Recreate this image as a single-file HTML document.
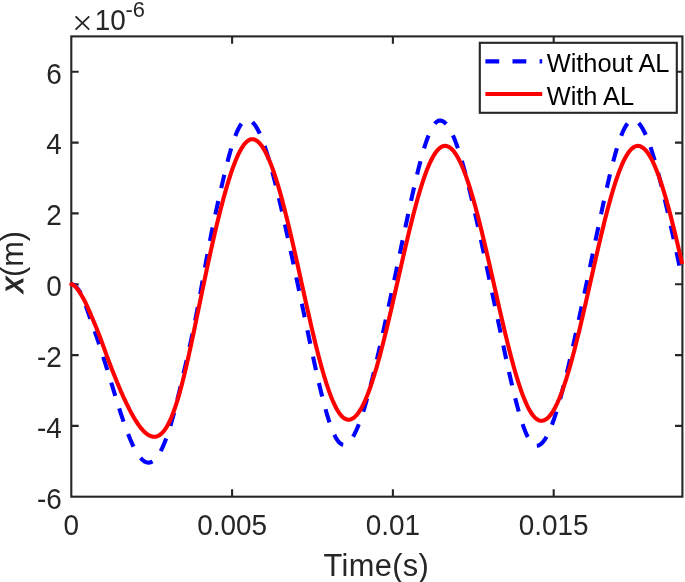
<!DOCTYPE html>
<html><head><meta charset="utf-8"><title>plot</title>
<style>
html,body{margin:0;padding:0;background:#fff;}
svg{display:block;}
text{font-family:"Liberation Sans",Arial,Helvetica,sans-serif;}
text.ser{font-family:"Liberation Serif",serif;}
</style></head><body>
<svg width="685" height="582" viewBox="0 0 685 582">
<rect x="0" y="0" width="685" height="582" fill="#fff"/>
<defs><clipPath id="ax"><rect x="67.3" y="36.4" width="619.1" height="460.3"/></clipPath></defs>
<rect x="71.3" y="36.4" width="611.1" height="460.3" fill="none" stroke="#262626" stroke-width="2.1"/>
<g stroke="#262626" stroke-width="2.1" fill="none"><path d="M232.1,496.7 v-7.4 M232.1,36.4 v7.4"/><path d="M392.9,496.7 v-7.4 M392.9,36.4 v7.4"/><path d="M553.7,496.7 v-7.4 M553.7,36.4 v7.4"/><path d="M71.3,71.8 h7.4 M682.4,71.8 h-7.4"/><path d="M71.3,142.6 h7.4 M682.4,142.6 h-7.4"/><path d="M71.3,213.4 h7.4 M682.4,213.4 h-7.4"/><path d="M71.3,284.3 h7.4 M682.4,284.3 h-7.4"/><path d="M71.3,355.1 h7.4 M682.4,355.1 h-7.4"/><path d="M71.3,425.9 h7.4 M682.4,425.9 h-7.4"/></g>
<g font-size="27.9" fill="#262626"><text transform="translate(71.3,535.4) scale(1,1.04)" text-anchor="middle">0</text><text transform="translate(232.1,535.4) scale(1,1.04)" text-anchor="middle">0.005</text><text transform="translate(392.9,535.4) scale(1,1.04)" text-anchor="middle">0.01</text><text transform="translate(553.7,535.4) scale(1,1.04)" text-anchor="middle">0.015</text><text transform="translate(61.8,83.6) scale(1,1.04)" text-anchor="end">6</text><text transform="translate(61.8,154.4) scale(1,1.04)" text-anchor="end">4</text><text transform="translate(61.8,225.2) scale(1,1.04)" text-anchor="end">2</text><text transform="translate(61.8,296.1) scale(1,1.04)" text-anchor="end">0</text><text transform="translate(61.8,366.9) scale(1,1.04)" text-anchor="end">-2</text><text transform="translate(61.8,437.7) scale(1,1.04)" text-anchor="end">-4</text><text transform="translate(61.8,508.5) scale(1,1.04)" text-anchor="end">-6</text></g>
<text x="72.1" y="35.1" font-size="36.8" class="ser" fill="#262626">×</text><text transform="translate(94.8,30) scale(1,1.04)" font-size="27.9" fill="#262626">10</text><text transform="translate(125.4,16.6) scale(1,1.04)" font-size="21.9" fill="#262626">-6</text>
<text x="376.4" y="575.6" font-size="30.8" letter-spacing="0.35" fill="#262626" text-anchor="middle">Time(s)</text>
<text transform="translate(22.9,261.7) rotate(-90)" font-size="30.8" fill="#262626" text-anchor="middle"><tspan font-style="italic" stroke="#262626" stroke-width="0.9">x</tspan>(m)</text>
<g clip-path="url(#ax)" fill="none" stroke-linejoin="round">
<path d="M71.3,284.2 L72.3,284.4 L73.3,284.7 L74.3,285.2 L75.3,285.9 L76.3,286.9 L77.3,288.2 L78.3,289.5 L79.3,290.9 L80.3,292.5 L81.3,294.3 L82.3,296.3 L83.3,298.8 L84.3,301.5 L85.3,304.2 L86.3,307.1 L87.3,310.0 L88.3,312.9 L89.3,315.8 L90.3,318.7 L91.3,321.6 L92.3,324.5 L93.3,327.3 L94.3,330.1 L95.3,333.0 L96.3,335.8 L97.3,338.8 L98.3,341.7 L99.3,344.7 L100.3,347.8 L101.3,350.9 L102.3,354.0 L103.3,357.1 L104.3,360.3 L105.3,363.5 L106.3,366.7 L107.3,370.0 L108.3,373.3 L109.3,376.5 L110.3,379.7 L111.3,383.0 L112.3,386.2 L113.3,389.4 L114.3,392.7 L115.3,395.9 L116.3,399.1 L117.3,402.3 L118.3,405.5 L119.3,408.6 L120.3,411.8 L121.3,414.8 L122.3,417.8 L123.3,420.8 L124.3,423.7 L125.3,426.5 L126.3,429.3 L127.3,432.0 L128.3,434.6 L129.3,437.1 L130.3,439.5 L131.3,441.8 L132.3,444.1 L133.3,446.2 L134.3,448.2 L135.3,450.0 L136.3,451.8 L137.3,453.5 L138.3,455.0 L139.3,456.4 L140.3,457.6 L141.3,458.7 L142.3,459.7 L143.3,460.6 L144.3,461.3 L145.3,461.8 L146.3,462.2 L147.3,462.5 L148.3,462.6 L149.3,462.6 L150.3,462.4 L151.3,462.0 L152.3,461.5 L153.3,460.9 L154.3,460.0 L155.3,459.1 L156.3,457.9 L157.3,456.7 L158.3,455.2 L159.3,453.6 L160.3,451.9 L161.3,450.0 L162.3,447.9 L163.3,445.7 L164.3,443.3 L165.3,440.8 L166.3,438.2 L167.3,435.3 L168.3,432.4 L169.3,429.3 L170.3,426.1 L171.3,422.7 L172.3,419.2 L173.3,415.6 L174.3,411.8 L175.3,407.9 L176.3,404.0 L177.3,399.9 L178.3,395.8 L179.3,391.6 L180.3,387.4 L181.3,383.1 L182.3,378.8 L183.3,374.5 L184.3,370.2 L185.3,365.9 L186.3,361.6 L187.3,357.2 L188.3,352.8 L189.3,348.4 L190.3,343.9 L191.3,339.3 L192.3,334.6 L193.3,329.8 L194.3,324.9 L195.3,319.9 L196.3,314.8 L197.3,309.6 L198.3,304.3 L199.3,298.9 L200.3,293.4 L201.3,287.9 L202.3,282.3 L203.3,276.8 L204.3,271.2 L205.3,265.7 L206.3,260.2 L207.3,254.8 L208.3,249.5 L209.3,244.2 L210.3,239.1 L211.3,234.0 L212.3,229.0 L213.3,224.2 L214.3,219.4 L215.3,214.7 L216.3,210.1 L217.3,205.5 L218.3,201.0 L219.3,196.6 L220.3,192.2 L221.3,187.8 L222.3,183.4 L223.3,179.1 L224.3,174.9 L225.3,170.7 L226.3,166.6 L227.3,162.7 L228.3,158.8 L229.3,155.1 L230.3,151.5 L231.3,148.0 L232.3,144.8 L233.3,141.7 L234.3,138.7 L235.3,136.0 L236.3,133.5 L237.3,131.1 L238.3,129.0 L239.3,127.1 L240.3,125.4 L241.3,123.9 L242.3,122.6 L243.3,121.5 L244.3,120.7 L245.3,120.1 L246.3,119.8 L247.3,119.6 L248.3,119.7 L249.3,120.0 L250.3,120.4 L251.3,121.1 L252.3,121.9 L253.3,123.0 L254.3,124.2 L255.3,125.5 L256.3,127.1 L257.3,128.8 L258.3,130.7 L259.3,132.7 L260.3,134.9 L261.3,137.3 L262.3,139.8 L263.3,142.4 L264.3,145.2 L265.3,148.1 L266.3,151.1 L267.3,154.3 L268.3,157.6 L269.3,161.0 L270.3,164.4 L271.3,168.0 L272.3,171.7 L273.3,175.5 L274.3,179.4 L275.3,183.3 L276.3,187.4 L277.3,191.5 L278.3,195.6 L279.3,199.8 L280.3,204.1 L281.3,208.4 L282.3,212.8 L283.3,217.2 L284.3,221.7 L285.3,226.2 L286.3,230.7 L287.3,235.3 L288.3,239.9 L289.3,244.5 L290.3,249.1 L291.3,253.8 L292.3,258.4 L293.3,263.1 L294.3,267.8 L295.3,272.6 L296.3,277.3 L297.3,282.0 L298.3,286.8 L299.3,291.6 L300.3,296.3 L301.3,301.1 L302.3,305.9 L303.3,310.7 L304.3,315.4 L305.3,320.2 L306.3,325.0 L307.3,329.7 L308.3,334.5 L309.3,339.2 L310.3,343.9 L311.3,348.6 L312.3,353.3 L313.3,357.9 L314.3,362.5 L315.3,367.1 L316.3,371.5 L317.3,376.0 L318.3,380.4 L319.3,384.7 L320.3,388.9 L321.3,393.0 L322.3,397.0 L323.3,401.0 L324.3,404.8 L325.3,408.5 L326.3,412.0 L327.3,415.4 L328.3,418.7 L329.3,421.8 L330.3,424.8 L331.3,427.5 L332.3,430.1 L333.3,432.5 L334.3,434.7 L335.3,436.7 L336.3,438.5 L337.3,440.1 L338.3,441.4 L339.3,442.5 L340.3,443.4 L341.3,444.1 L342.3,444.5 L343.3,444.7 L344.3,444.7 L345.3,444.4 L346.3,444.0 L347.3,443.4 L348.3,442.7 L349.3,441.7 L350.3,440.6 L351.3,439.3 L352.3,437.8 L353.3,436.2 L354.3,434.4 L355.3,432.4 L356.3,430.3 L357.3,428.0 L358.3,425.6 L359.3,423.0 L360.3,420.3 L361.3,417.5 L362.3,414.5 L363.3,411.4 L364.3,408.2 L365.3,404.8 L366.3,401.4 L367.3,397.8 L368.3,394.2 L369.3,390.4 L370.3,386.6 L371.3,382.7 L372.3,378.7 L373.3,374.7 L374.3,370.6 L375.3,366.4 L376.3,362.1 L377.3,357.8 L378.3,353.5 L379.3,349.1 L380.3,344.7 L381.3,340.2 L382.3,335.7 L383.3,331.2 L384.3,326.6 L385.3,322.0 L386.3,317.4 L387.3,312.8 L388.3,308.1 L389.3,303.4 L390.3,298.8 L391.3,294.1 L392.3,289.3 L393.3,284.6 L394.3,279.9 L395.3,275.1 L396.3,270.4 L397.3,265.6 L398.3,260.8 L399.3,256.1 L400.3,251.3 L401.3,246.5 L402.3,241.8 L403.3,237.0 L404.3,232.3 L405.3,227.6 L406.3,222.9 L407.3,218.2 L408.3,213.5 L409.3,208.9 L410.3,204.3 L411.3,199.7 L412.3,195.2 L413.3,190.8 L414.3,186.4 L415.3,182.1 L416.3,177.9 L417.3,173.7 L418.3,169.6 L419.3,165.7 L420.3,161.8 L421.3,158.1 L422.3,154.5 L423.3,151.0 L424.3,147.7 L425.3,144.5 L426.3,141.5 L427.3,138.7 L428.3,136.1 L429.3,133.6 L430.3,131.3 L431.3,129.2 L432.3,127.4 L433.3,125.7 L434.3,124.3 L435.3,123.1 L436.3,122.1 L437.3,121.4 L438.3,120.8 L439.3,120.6 L440.3,120.5 L441.3,120.7 L442.3,121.0 L443.3,121.5 L444.3,122.2 L445.3,123.1 L446.3,124.1 L447.3,125.3 L448.3,126.8 L449.3,128.3 L450.3,130.1 L451.3,132.0 L452.3,134.0 L453.3,136.3 L454.3,138.6 L455.3,141.1 L456.3,143.8 L457.3,146.6 L458.3,149.5 L459.3,152.6 L460.3,155.8 L461.3,159.1 L462.3,162.5 L463.3,166.0 L464.3,169.6 L465.3,173.3 L466.3,177.1 L467.3,181.0 L468.3,185.0 L469.3,189.0 L470.3,193.1 L471.3,197.3 L472.3,201.5 L473.3,205.8 L474.3,210.1 L475.3,214.5 L476.3,218.9 L477.3,223.4 L478.3,227.9 L479.3,232.4 L480.3,237.0 L481.3,241.6 L482.3,246.2 L483.3,250.8 L484.3,255.5 L485.3,260.1 L486.3,264.8 L487.3,269.5 L488.3,274.3 L489.3,279.0 L490.3,283.7 L491.3,288.5 L492.3,293.3 L493.3,298.0 L494.3,302.8 L495.3,307.6 L496.3,312.4 L497.3,317.1 L498.3,321.9 L499.3,326.7 L500.3,331.4 L501.3,336.2 L502.3,340.9 L503.3,345.6 L504.3,350.3 L505.3,355.0 L506.3,359.6 L507.3,364.2 L508.3,368.7 L509.3,373.2 L510.3,377.6 L511.3,382.0 L512.3,386.2 L513.3,390.4 L514.3,394.6 L515.3,398.6 L516.3,402.5 L517.3,406.3 L518.3,410.0 L519.3,413.5 L520.3,416.9 L521.3,420.2 L522.3,423.2 L523.3,426.2 L524.3,428.9 L525.3,431.5 L526.3,433.9 L527.3,436.0 L528.3,438.0 L529.3,439.8 L530.3,441.3 L531.3,442.6 L532.3,443.7 L533.3,444.6 L534.3,445.2 L535.3,445.6 L536.3,445.8 L537.3,445.7 L538.3,445.5 L539.3,445.1 L540.3,444.5 L541.3,443.7 L542.3,442.7 L543.3,441.6 L544.3,440.3 L545.3,438.8 L546.3,437.1 L547.3,435.3 L548.3,433.3 L549.3,431.1 L550.3,428.8 L551.3,426.4 L552.3,423.8 L553.3,421.0 L554.3,418.2 L555.3,415.1 L556.3,412.0 L557.3,408.8 L558.3,405.4 L559.3,401.9 L560.3,398.4 L561.3,394.7 L562.3,390.9 L563.3,387.1 L564.3,383.1 L565.3,379.1 L566.3,375.0 L567.3,370.9 L568.3,366.7 L569.3,362.4 L570.3,358.1 L571.3,353.7 L572.3,349.3 L573.3,344.9 L574.3,340.4 L575.3,335.8 L576.3,331.3 L577.3,326.7 L578.3,322.1 L579.3,317.5 L580.3,312.8 L581.3,308.1 L582.3,303.4 L583.3,298.7 L584.3,294.0 L585.3,289.2 L586.3,284.5 L587.3,279.7 L588.3,275.0 L589.3,270.2 L590.3,265.4 L591.3,260.6 L592.3,255.8 L593.3,251.0 L594.3,246.3 L595.3,241.5 L596.3,236.7 L597.3,231.9 L598.3,227.2 L599.3,222.5 L600.3,217.8 L601.3,213.1 L602.3,208.4 L603.3,203.8 L604.3,199.2 L605.3,194.7 L606.3,190.3 L607.3,185.9 L608.3,181.5 L609.3,177.3 L610.3,173.1 L611.3,169.1 L612.3,165.1 L613.3,161.2 L614.3,157.5 L615.3,153.9 L616.3,150.4 L617.3,147.1 L618.3,143.9 L619.3,140.9 L620.3,138.1 L621.3,135.5 L622.3,133.0 L623.3,130.7 L624.3,128.7 L625.3,126.8 L626.3,125.2 L627.3,123.8 L628.3,122.6 L629.3,121.6 L630.3,120.9 L631.3,120.4 L632.3,120.1 L633.3,120.1 L634.3,120.3 L635.3,120.6 L636.3,121.2 L637.3,121.9 L638.3,122.8 L639.3,123.8 L640.3,125.1 L641.3,126.5 L642.3,128.1 L643.3,129.9 L644.3,131.8 L645.3,133.9 L646.3,136.1 L647.3,138.5 L648.3,141.1 L649.3,143.8 L650.3,146.6 L651.3,149.5 L652.3,152.6 L653.3,155.8 L654.3,159.1 L655.3,162.6 L656.3,166.1 L657.3,169.7 L658.3,173.5 L659.3,177.3 L660.3,181.2 L661.3,185.2 L662.3,189.2 L663.3,193.3 L664.3,197.5 L665.3,201.8 L666.3,206.1 L667.3,210.4 L668.3,214.8 L669.3,219.3 L670.3,223.7 L671.3,228.2 L672.3,232.8 L673.3,237.4 L674.3,242.0 L675.3,246.6 L676.3,251.2 L677.3,255.9 L678.3,260.6 L679.3,265.3 L680.1,269.1" stroke="#0000ff" stroke-width="4.1" stroke-dasharray="13.78 13.25"/>
<path d="M71.3,284.2 L72.3,284.5 L73.3,285.1 L74.3,285.7 L75.3,286.6 L76.3,287.7 L77.3,288.9 L78.3,290.3 L79.3,291.7 L80.3,293.3 L81.3,295.0 L82.3,296.7 L83.3,298.4 L84.3,300.3 L85.3,302.2 L86.3,304.3 L87.3,306.5 L88.3,308.8 L89.3,311.1 L90.3,313.4 L91.3,315.7 L92.3,318.1 L93.3,320.5 L94.3,322.9 L95.3,325.3 L96.3,327.7 L97.3,330.2 L98.3,332.7 L99.3,335.3 L100.3,337.9 L101.3,340.6 L102.3,343.3 L103.3,346.1 L104.3,348.8 L105.3,351.6 L106.3,354.4 L107.3,357.2 L108.3,359.9 L109.3,362.5 L110.3,365.1 L111.3,367.7 L112.3,370.3 L113.3,372.8 L114.3,375.3 L115.3,377.8 L116.3,380.3 L117.3,382.7 L118.3,385.1 L119.3,387.5 L120.3,389.9 L121.3,392.2 L122.3,394.4 L123.3,396.7 L124.3,398.9 L125.3,401.0 L126.3,403.1 L127.3,405.2 L128.3,407.2 L129.3,409.2 L130.3,411.1 L131.3,413.0 L132.3,414.8 L133.3,416.6 L134.3,418.3 L135.3,419.9 L136.3,421.5 L137.3,423.0 L138.3,424.5 L139.3,425.9 L140.3,427.2 L141.3,428.5 L142.3,429.6 L143.3,430.7 L144.3,431.7 L145.3,432.7 L146.3,433.5 L147.3,434.3 L148.3,434.9 L149.3,435.5 L150.3,435.9 L151.3,436.3 L152.3,436.6 L153.3,436.7 L154.3,436.8 L155.3,436.7 L156.3,436.5 L157.3,436.2 L158.3,435.8 L159.3,435.2 L160.3,434.5 L161.3,433.7 L162.3,432.8 L163.3,431.7 L164.3,430.4 L165.3,429.1 L166.3,427.5 L167.3,425.8 L168.3,424.0 L169.3,422.0 L170.3,419.9 L171.3,417.6 L172.3,415.1 L173.3,412.6 L174.3,409.8 L175.3,406.9 L176.3,403.9 L177.3,400.7 L178.3,397.4 L179.3,393.9 L180.3,390.3 L181.3,386.6 L182.3,382.8 L183.3,378.8 L184.3,374.7 L185.3,370.6 L186.3,366.3 L187.3,361.9 L188.3,357.5 L189.3,352.9 L190.3,348.3 L191.3,343.7 L192.3,338.9 L193.3,334.2 L194.3,329.4 L195.3,324.6 L196.3,319.7 L197.3,314.9 L198.3,310.0 L199.3,305.2 L200.3,300.3 L201.3,295.5 L202.3,290.7 L203.3,285.8 L204.3,281.1 L205.3,276.3 L206.3,271.6 L207.3,266.9 L208.3,262.3 L209.3,257.6 L210.3,253.1 L211.3,248.6 L212.3,244.1 L213.3,239.7 L214.3,235.4 L215.3,231.1 L216.3,226.8 L217.3,222.7 L218.3,218.6 L219.3,214.5 L220.3,210.6 L221.3,206.7 L222.3,202.9 L223.3,199.1 L224.3,195.4 L225.3,191.9 L226.3,188.4 L227.3,184.9 L228.3,181.6 L229.3,178.4 L230.3,175.3 L231.3,172.2 L232.3,169.3 L233.3,166.5 L234.3,163.9 L235.3,161.3 L236.3,158.9 L237.3,156.6 L238.3,154.4 L239.3,152.4 L240.3,150.5 L241.3,148.7 L242.3,147.1 L243.3,145.6 L244.3,144.3 L245.3,143.1 L246.3,142.1 L247.3,141.2 L248.3,140.5 L249.3,139.9 L250.3,139.5 L251.3,139.3 L252.3,139.2 L253.3,139.3 L254.3,139.5 L255.3,139.9 L256.3,140.5 L257.3,141.1 L258.3,142.0 L259.3,142.9 L260.3,144.1 L261.3,145.3 L262.3,146.7 L263.3,148.3 L264.3,149.9 L265.3,151.8 L266.3,153.7 L267.3,155.8 L268.3,158.0 L269.3,160.3 L270.3,162.7 L271.3,165.3 L272.3,168.0 L273.3,170.8 L274.3,173.7 L275.3,176.7 L276.3,179.8 L277.3,183.1 L278.3,186.4 L279.3,189.8 L280.3,193.3 L281.3,196.9 L282.3,200.6 L283.3,204.4 L284.3,208.3 L285.3,212.2 L286.3,216.2 L287.3,220.2 L288.3,224.4 L289.3,228.5 L290.3,232.8 L291.3,237.0 L292.3,241.4 L293.3,245.7 L294.3,250.1 L295.3,254.6 L296.3,259.0 L297.3,263.5 L298.3,268.0 L299.3,272.5 L300.3,277.0 L301.3,281.6 L302.3,286.1 L303.3,290.6 L304.3,295.2 L305.3,299.7 L306.3,304.1 L307.3,308.6 L308.3,313.0 L309.3,317.4 L310.3,321.8 L311.3,326.1 L312.3,330.4 L313.3,334.7 L314.3,338.8 L315.3,342.9 L316.3,347.0 L317.3,351.0 L318.3,354.9 L319.3,358.7 L320.3,362.5 L321.3,366.2 L322.3,369.7 L323.3,373.2 L324.3,376.6 L325.3,379.9 L326.3,383.1 L327.3,386.1 L328.3,389.1 L329.3,391.9 L330.3,394.6 L331.3,397.2 L332.3,399.7 L333.3,402.0 L334.3,404.2 L335.3,406.3 L336.3,408.2 L337.3,410.0 L338.3,411.6 L339.3,413.1 L340.3,414.5 L341.3,415.7 L342.3,416.7 L343.3,417.6 L344.3,418.3 L345.3,418.9 L346.3,419.3 L347.3,419.6 L348.3,419.7 L349.3,419.7 L350.3,419.5 L351.3,419.1 L352.3,418.7 L353.3,418.1 L354.3,417.3 L355.3,416.4 L356.3,415.4 L357.3,414.2 L358.3,412.9 L359.3,411.5 L360.3,409.9 L361.3,408.2 L362.3,406.4 L363.3,404.4 L364.3,402.3 L365.3,400.1 L366.3,397.7 L367.3,395.3 L368.3,392.7 L369.3,390.0 L370.3,387.2 L371.3,384.3 L372.3,381.3 L373.3,378.2 L374.3,375.0 L375.3,371.7 L376.3,368.3 L377.3,364.9 L378.3,361.3 L379.3,357.6 L380.3,353.9 L381.3,350.1 L382.3,346.3 L383.3,342.3 L384.3,338.3 L385.3,334.3 L386.3,330.2 L387.3,326.0 L388.3,321.8 L389.3,317.6 L390.3,313.3 L391.3,309.0 L392.3,304.7 L393.3,300.3 L394.3,295.9 L395.3,291.5 L396.3,287.1 L397.3,282.7 L398.3,278.3 L399.3,273.9 L400.3,269.5 L401.3,265.1 L402.3,260.7 L403.3,256.3 L404.3,252.0 L405.3,247.7 L406.3,243.4 L407.3,239.2 L408.3,235.0 L409.3,230.8 L410.3,226.7 L411.3,222.7 L412.3,218.7 L413.3,214.8 L414.3,210.9 L415.3,207.2 L416.3,203.5 L417.3,199.8 L418.3,196.3 L419.3,192.9 L420.3,189.5 L421.3,186.3 L422.3,183.1 L423.3,180.1 L424.3,177.1 L425.3,174.3 L426.3,171.6 L427.3,169.0 L428.3,166.6 L429.3,164.2 L430.3,162.0 L431.3,160.0 L432.3,158.0 L433.3,156.2 L434.3,154.5 L435.3,153.0 L436.3,151.6 L437.3,150.4 L438.3,149.3 L439.3,148.4 L440.3,147.6 L441.3,146.9 L442.3,146.5 L443.3,146.1 L444.3,145.9 L445.3,145.9 L446.3,146.0 L447.3,146.3 L448.3,146.7 L449.3,147.2 L450.3,147.9 L451.3,148.7 L452.3,149.7 L453.3,150.8 L454.3,152.1 L455.3,153.4 L456.3,155.0 L457.3,156.6 L458.3,158.4 L459.3,160.3 L460.3,162.3 L461.3,164.5 L462.3,166.8 L463.3,169.2 L464.3,171.7 L465.3,174.4 L466.3,177.1 L467.3,180.0 L468.3,183.0 L469.3,186.0 L470.3,189.2 L471.3,192.5 L472.3,195.9 L473.3,199.3 L474.3,202.9 L475.3,206.5 L476.3,210.2 L477.3,214.0 L478.3,217.8 L479.3,221.7 L480.3,225.7 L481.3,229.8 L482.3,233.9 L483.3,238.0 L484.3,242.2 L485.3,246.5 L486.3,250.7 L487.3,255.1 L488.3,259.4 L489.3,263.8 L490.3,268.2 L491.3,272.6 L492.3,277.0 L493.3,281.4 L494.3,285.9 L495.3,290.3 L496.3,294.8 L497.3,299.2 L498.3,303.6 L499.3,308.0 L500.3,312.4 L501.3,316.7 L502.3,321.0 L503.3,325.3 L504.3,329.5 L505.3,333.7 L506.3,337.9 L507.3,342.0 L508.3,346.0 L509.3,349.9 L510.3,353.8 L511.3,357.7 L512.3,361.4 L513.3,365.1 L514.3,368.7 L515.3,372.2 L516.3,375.6 L517.3,378.9 L518.3,382.1 L519.3,385.2 L520.3,388.2 L521.3,391.1 L522.3,393.9 L523.3,396.5 L524.3,399.0 L525.3,401.4 L526.3,403.7 L527.3,405.8 L528.3,407.9 L529.3,409.7 L530.3,411.5 L531.3,413.0 L532.3,414.5 L533.3,415.8 L534.3,416.9 L535.3,417.9 L536.3,418.8 L537.3,419.5 L538.3,420.1 L539.3,420.5 L540.3,420.7 L541.3,420.8 L542.3,420.7 L543.3,420.5 L544.3,420.2 L545.3,419.7 L546.3,419.1 L547.3,418.3 L548.3,417.4 L549.3,416.3 L550.3,415.2 L551.3,413.8 L552.3,412.4 L553.3,410.8 L554.3,409.0 L555.3,407.2 L556.3,405.2 L557.3,403.1 L558.3,400.8 L559.3,398.5 L560.3,396.0 L561.3,393.4 L562.3,390.7 L563.3,387.9 L564.3,384.9 L565.3,381.9 L566.3,378.8 L567.3,375.5 L568.3,372.2 L569.3,368.8 L570.3,365.3 L571.3,361.7 L572.3,358.0 L573.3,354.3 L574.3,350.4 L575.3,346.5 L576.3,342.6 L577.3,338.6 L578.3,334.5 L579.3,330.4 L580.3,326.2 L581.3,321.9 L582.3,317.7 L583.3,313.4 L584.3,309.0 L585.3,304.7 L586.3,300.3 L587.3,295.9 L588.3,291.5 L589.3,287.0 L590.3,282.6 L591.3,278.2 L592.3,273.7 L593.3,269.3 L594.3,264.9 L595.3,260.5 L596.3,256.1 L597.3,251.7 L598.3,247.4 L599.3,243.1 L600.3,238.9 L601.3,234.6 L602.3,230.5 L603.3,226.4 L604.3,222.3 L605.3,218.3 L606.3,214.4 L607.3,210.5 L608.3,206.8 L609.3,203.1 L610.3,199.4 L611.3,195.9 L612.3,192.5 L613.3,189.1 L614.3,185.9 L615.3,182.7 L616.3,179.7 L617.3,176.8 L618.3,173.9 L619.3,171.2 L620.3,168.7 L621.3,166.2 L622.3,163.9 L623.3,161.7 L624.3,159.6 L625.3,157.7 L626.3,155.9 L627.3,154.3 L628.3,152.8 L629.3,151.4 L630.3,150.2 L631.3,149.1 L632.3,148.2 L633.3,147.5 L634.3,146.8 L635.3,146.4 L636.3,146.1 L637.3,145.9 L638.3,145.9 L639.3,146.1 L640.3,146.3 L641.3,146.8 L642.3,147.3 L643.3,148.1 L644.3,148.9 L645.3,149.9 L646.3,151.0 L647.3,152.3 L648.3,153.7 L649.3,155.3 L650.3,156.9 L651.3,158.7 L652.3,160.7 L653.3,162.7 L654.3,164.9 L655.3,167.2 L656.3,169.7 L657.3,172.2 L658.3,174.9 L659.3,177.6 L660.3,180.5 L661.3,183.5 L662.3,186.6 L663.3,189.8 L664.3,193.1 L665.3,196.4 L666.3,199.9 L667.3,203.5 L668.3,207.1 L669.3,210.8 L670.3,214.6 L671.3,218.5 L672.3,222.4 L673.3,226.4 L674.3,230.4 L675.3,234.5 L676.3,238.7 L677.3,242.9 L678.3,247.1 L679.3,251.4 L680.3,255.7 L681.3,260.1 L682.2,264.0" stroke="#ff0000" stroke-width="4.1"/>
<circle cx="71.3" cy="284.2" r="2.05" fill="#ff0000" stroke="none"/>
</g>
<rect x="479.8" y="42.8" width="197" height="70" fill="#fff" stroke="#262626" stroke-width="2.1"/>
<path d="M485.4,61.4 H542.2" stroke="#0000ff" stroke-width="4.1" stroke-dasharray="13.8 13.3" fill="none"/>
<path d="M485.4,94 H542.2" stroke="#ff0000" stroke-width="4.1" fill="none"/>
<text x="546.7" y="71.8" font-size="25.4" fill="#000">Without AL</text>
<text x="546.7" y="104.7" font-size="25.4" fill="#000">With AL</text>
</svg>
</body></html>
